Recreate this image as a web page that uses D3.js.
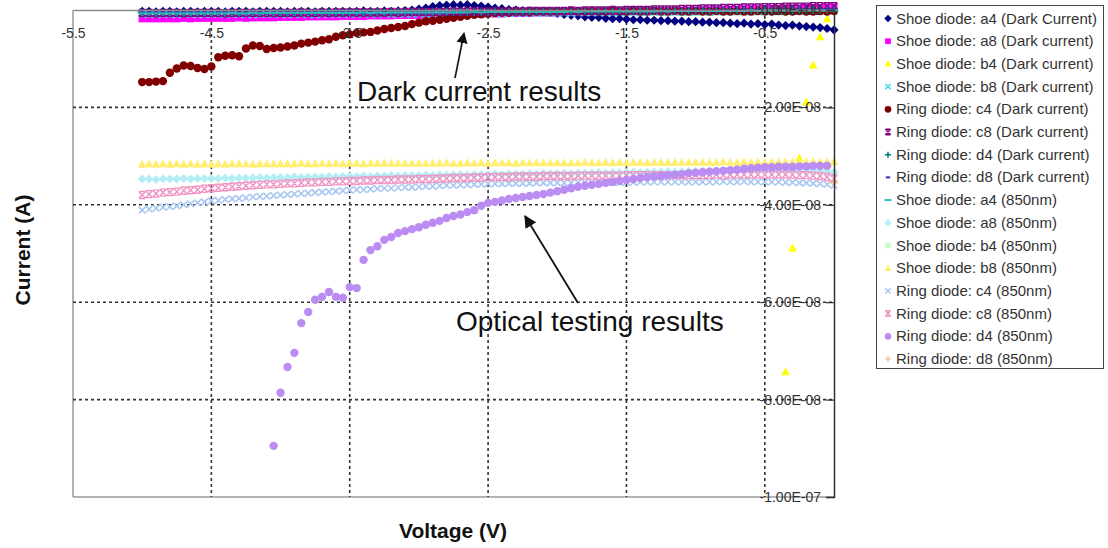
<!DOCTYPE html>
<html><head><meta charset="utf-8">
<script src="https://cdn.jsdelivr.net/npm/d3@7"></script>
<style>body{margin:0;background:#fff}svg{display:block;font-family:Arial,"Liberation Sans",sans-serif}</style>
</head><body>
<svg id="chart" width="1108" height="548"></svg>
<script>
// Voltage (V), one point every 0.05 V
const voltage = [
-5.00,-4.95,-4.90,-4.85,-4.80,-4.75,-4.70,-4.65,-4.60,-4.55,
-4.50,-4.45,-4.40,-4.35,-4.30,-4.25,-4.20,-4.15,-4.10,-4.05,
-4.00,-3.95,-3.90,-3.85,-3.80,-3.75,-3.70,-3.65,-3.60,-3.55,
-3.50,-3.45,-3.40,-3.35,-3.30,-3.25,-3.20,-3.15,-3.10,-3.05,
-3.00,-2.95,-2.90,-2.85,-2.80,-2.75,-2.70,-2.65,-2.60,-2.55,
-2.50,-2.45,-2.40,-2.35,-2.30,-2.25,-2.20,-2.15,-2.10,-2.05,
-2.00,-1.95,-1.90,-1.85,-1.80,-1.75,-1.70,-1.65,-1.60,-1.55,
-1.50,-1.45,-1.40,-1.35,-1.30,-1.25,-1.20,-1.15,-1.10,-1.05,
-1.00,-0.95,-0.90,-0.85,-0.80,-0.75,-0.70,-0.65,-0.60,-0.55,
-0.50,-0.45,-0.40,-0.35,-0.30,-0.25,-0.20,-0.15,-0.10,-0.05,
0.00];

// Currents in nA (null = outside the plotted range)
const shoeA4Dark = [
-0.3,-0.3,-0.4,-0.3,-0.3,-0.4,-0.3,-0.3,-0.4,-0.3,
-0.3,-0.3,-0.4,-0.3,-0.3,-0.3,-0.4,-0.3,-0.3,-0.3,
-0.3,-0.4,-0.3,-0.3,-0.3,-0.4,-0.3,-0.3,-0.3,-0.3,
-0.3,-0.3,-0.2,-0.3,-0.3,-0.2,-0.3,-0.2,-0.1,0.0,
0.2,0.4,0.7,0.9,1.0,1.1,1.0,1.1,0.9,0.8,
0.6,0.4,0.3,0.1,0.0,-0.1,-0.2,-0.3,-0.4,-0.5,
-0.7,-0.9,-1.1,-1.2,-1.4,-1.5,-1.5,-1.7,-1.8,-1.8,
-1.9,-2.0,-2.0,-2.1,-2.1,-2.2,-2.2,-2.3,-2.3,-2.4,
-2.4,-2.5,-2.5,-2.6,-2.6,-2.7,-2.8,-2.7,-2.9,-2.8,
-3.0,-2.9,-3.1,-3.2,-3.1,-3.3,-3.4,-3.5,-3.6,-3.8,
-4.1];
const shoeA8Dark = [
-1.8,-1.8,-1.8,-1.8,-1.8,-1.8,-1.7,-1.8,-1.7,-1.7,
-1.7,-1.7,-1.7,-1.7,-1.6,-1.7,-1.6,-1.6,-1.6,-1.6,
-1.5,-1.5,-1.5,-1.5,-1.4,-1.4,-1.4,-1.4,-1.4,-1.3,
-1.3,-1.3,-1.3,-1.2,-1.2,-1.2,-1.2,-1.1,-1.1,-1.1,
-1.1,-1.0,-1.0,-1.0,-1.0,-0.9,-0.9,-0.9,-0.9,-0.8,
-0.8,-0.8,-0.8,-0.7,-0.7,-0.7,-0.7,-0.6,-0.6,-0.6,
-0.6,-0.5,-0.5,-0.5,-0.5,-0.4,-0.4,-0.4,-0.4,-0.3,
-0.3,-0.3,-0.3,-0.2,-0.2,-0.2,-0.2,-0.1,-0.1,-0.1,
-0.1,0.0,0.0,0.0,0.1,0.1,0.1,0.2,0.2,0.2,
0.3,0.3,0.3,0.4,0.4,0.4,0.5,0.5,0.5,0.6,
0.6];
const shoeB4Dark = [
null,null,null,null,null,null,null,null,null,null,
null,null,null,null,null,null,null,null,null,null,
null,null,null,null,null,null,null,null,null,null,
null,null,null,null,null,null,null,null,null,null,
null,null,null,null,null,null,null,null,null,null,
null,null,null,null,null,null,null,null,null,null,
null,null,null,null,null,null,null,null,null,null,
null,null,null,null,null,null,null,null,null,null,
null,null,null,null,null,null,null,null,null,null,
null,null,null,-74.3,-48.9,-30.4,-18.9,-11.3,-5.5,-1.8,
-0.2];
const shoeB8Dark = [
-0.9,-0.9,-1.0,-0.9,-0.9,-1.0,-0.9,-0.9,-1.0,-0.9,
-0.9,-0.9,-1.0,-0.9,-0.9,-0.9,-1.0,-0.9,-0.9,-0.9,
-0.9,-1.0,-0.9,-0.9,-0.9,-1.0,-0.9,-0.9,-0.9,-0.9,
-0.9,-0.9,-0.8,-0.9,-0.9,-0.8,-0.9,-0.9,-0.8,-0.9,
-0.8,-0.9,-0.8,-0.8,-0.9,-0.8,-0.8,-0.8,-0.8,-0.8,
-0.8,-0.7,-0.8,-0.7,-0.7,-0.7,-0.7,-0.7,-0.7,-0.7,
-0.7,-0.6,-0.7,-0.6,-0.6,-0.6,-0.6,-0.6,-0.6,-0.6,
-0.6,-0.5,-0.6,-0.5,-0.5,-0.5,-0.5,-0.5,-0.5,-0.5,
-0.5,-0.4,-0.5,-0.4,-0.4,-0.4,-0.4,-0.4,-0.4,-0.4,
-0.4,-0.3,-0.4,-0.3,-0.3,-0.3,-0.3,-0.3,-0.3,-0.3,
-0.3];
const ringC4Dark = [
-14.8,-14.8,-14.7,-14.6,-12.9,-12.0,-11.4,-11.5,-11.9,-12.1,
-11.6,-9.7,-9.4,-9.3,-9.5,-7.9,-7.3,-7.4,-8.0,-7.8,
-7.7,-7.5,-7.3,-6.9,-6.7,-6.5,-6.2,-6.0,-5.5,-5.2,
-5.0,-4.7,-4.6,-4.5,-4.2,-3.9,-3.7,-3.5,-3.3,-2.9,
-2.6,-2.3,-2.2,-2.0,-1.8,-1.6,-1.4,-1.2,-1.0,-0.9,
-0.7,-0.6,-0.5,-0.5,-0.4,-0.4,-0.4,-0.3,-0.3,-0.3,
-0.3,-0.3,-0.2,-0.3,-0.3,-0.2,-0.3,-0.3,-0.2,-0.3,
-0.3,-0.2,-0.3,-0.3,-0.2,-0.3,-0.3,-0.2,-0.3,-0.3,
-0.2,-0.3,-0.3,-0.2,-0.3,-0.3,-0.2,-0.3,-0.3,-0.2,
-0.3,-0.3,-0.2,-0.3,-0.3,-0.2,-0.3,-0.3,-0.2,-0.3,
-0.2];
const ringC8Dark = [
-0.6,-0.6,-0.7,-0.6,-0.6,-0.6,-0.7,-0.6,-0.6,-0.6,
-0.6,-0.6,-0.7,-0.6,-0.6,-0.6,-0.6,-0.6,-0.6,-0.6,
-0.6,-0.6,-0.6,-0.5,-0.6,-0.6,-0.5,-0.6,-0.5,-0.5,
-0.5,-0.5,-0.5,-0.5,-0.5,-0.5,-0.4,-0.5,-0.4,-0.4,
-0.4,-0.4,-0.4,-0.4,-0.4,-0.3,-0.4,-0.3,-0.3,-0.3,
-0.3,-0.3,-0.3,-0.3,-0.2,-0.3,-0.2,-0.2,-0.2,-0.2,
-0.2,-0.2,-0.1,-0.2,-0.1,-0.1,-0.1,-0.1,0.0,-0.1,
0.0,0.0,0.0,0.0,0.1,0.1,0.1,0.1,0.2,0.2,
0.2,0.3,0.3,0.3,0.4,0.4,0.4,0.5,0.5,0.5,
0.6,0.6,0.6,0.7,0.7,0.7,0.7,0.8,0.8,0.8,
0.8];
const ringD4Dark = [
-0.6,-0.6,-0.6,-0.6,-0.6,-0.6,-0.6,-0.6,-0.6,-0.6,
-0.6,-0.6,-0.5,-0.6,-0.6,-0.6,-0.5,-0.6,-0.6,-0.6,
-0.5,-0.6,-0.5,-0.5,-0.6,-0.5,-0.5,-0.5,-0.5,-0.5,
-0.5,-0.5,-0.5,-0.5,-0.4,-0.5,-0.5,-0.4,-0.5,-0.4,
-0.4,-0.4,-0.4,-0.4,-0.4,-0.4,-0.4,-0.4,-0.4,-0.4,
-0.4,-0.3,-0.4,-0.3,-0.4,-0.3,-0.3,-0.3,-0.3,-0.3,
-0.3,-0.3,-0.3,-0.3,-0.3,-0.3,-0.3,-0.2,-0.3,-0.2,
-0.2,-0.2,-0.2,-0.2,-0.2,-0.2,-0.2,-0.2,-0.2,-0.2,
-0.2,-0.1,-0.2,-0.1,-0.1,-0.1,-0.1,-0.1,-0.1,-0.1,
-0.1,-0.1,-0.1,0.0,-0.1,0.0,0.0,0.0,0.0,0.0,
0.0];
const ringD8Dark = [
-0.5,-0.5,-0.5,-0.5,-0.5,-0.5,-0.5,-0.5,-0.5,-0.5,
-0.5,-0.5,-0.5,-0.5,-0.5,-0.5,-0.5,-0.5,-0.5,-0.5,
-0.5,-0.5,-0.5,-0.4,-0.5,-0.4,-0.5,-0.4,-0.4,-0.4,
-0.4,-0.4,-0.4,-0.4,-0.4,-0.4,-0.4,-0.4,-0.4,-0.4,
-0.4,-0.4,-0.3,-0.4,-0.3,-0.3,-0.3,-0.3,-0.3,-0.3,
-0.3,-0.3,-0.3,-0.3,-0.3,-0.3,-0.3,-0.3,-0.3,-0.3,
-0.2,-0.3,-0.2,-0.2,-0.2,-0.2,-0.2,-0.2,-0.2,-0.2,
-0.2,-0.2,-0.2,-0.2,-0.1,-0.2,-0.1,-0.1,-0.1,-0.1,
-0.1,-0.1,-0.1,-0.1,-0.1,-0.1,-0.1,0.0,-0.1,0.0,
0.0,0.0,0.0,0.0,0.0,0.1,0.0,0.1,0.1,0.1,
0.1];
const shoeA4Optical = [
-0.7,-0.7,-0.7,-0.7,-0.7,-0.7,-0.7,-0.7,-0.7,-0.7,
-0.7,-0.7,-0.7,-0.6,-0.7,-0.7,-0.6,-0.7,-0.6,-0.6,
-0.6,-0.6,-0.6,-0.6,-0.6,-0.6,-0.6,-0.6,-0.6,-0.6,
-0.6,-0.6,-0.5,-0.6,-0.5,-0.6,-0.5,-0.5,-0.5,-0.5,
-0.5,-0.5,-0.5,-0.5,-0.5,-0.5,-0.5,-0.5,-0.4,-0.5,
-0.4,-0.4,-0.4,-0.4,-0.4,-0.4,-0.4,-0.4,-0.4,-0.4,
-0.4,-0.4,-0.3,-0.4,-0.3,-0.3,-0.3,-0.3,-0.3,-0.3,
-0.3,-0.3,-0.3,-0.3,-0.3,-0.2,-0.3,-0.2,-0.2,-0.2,
-0.2,-0.2,-0.2,-0.2,-0.2,-0.2,-0.2,-0.2,-0.1,-0.2,
-0.1,-0.1,-0.1,-0.1,-0.1,-0.1,-0.1,-0.1,-0.1,-0.1,
-0.1];
const shoeA8Optical = [
-34.7,-34.7,-34.8,-34.7,-34.7,-34.7,-34.6,-34.7,-34.6,-34.6,
-34.6,-34.6,-34.5,-34.6,-34.5,-34.5,-34.5,-34.4,-34.5,-34.4,
-34.4,-34.4,-34.3,-34.4,-34.3,-34.3,-34.3,-34.2,-34.3,-34.2,
-34.2,-34.2,-34.1,-34.2,-34.1,-34.1,-34.0,-34.1,-34.0,-34.0,
-34.0,-33.9,-34.0,-33.9,-33.9,-33.9,-33.8,-33.9,-33.8,-33.8,
-33.8,-33.7,-33.8,-33.7,-33.7,-33.7,-33.6,-33.7,-33.6,-33.6,
-33.6,-33.5,-33.6,-33.5,-33.5,-33.5,-33.4,-33.5,-33.4,-33.4,
-33.4,-33.3,-33.4,-33.3,-33.3,-33.3,-33.2,-33.3,-33.2,-33.2,
-33.2,-33.1,-33.2,-33.1,-33.1,-33.1,-33.0,-33.1,-33.0,-33.0,
-33.0,-33.0,-32.9,-33.0,-32.9,-32.9,-32.9,-32.9,-33.0,-33.1,
-33.3];
const shoeB4Optical = [
null,null,null,null,null,null,null,null,null,null,
null,null,null,null,null,null,null,null,null,null,
null,null,null,null,null,null,null,null,null,null,
null,null,null,null,null,null,null,null,null,null,
null,null,null,null,null,null,null,null,null,null,
null,null,null,null,null,null,null,null,null,null,
null,null,null,null,null,null,null,null,null,null,
null,null,null,null,null,null,null,null,null,null,
null,null,null,null,null,null,null,null,null,null,
null,null,null,null,null,null,null,null,null,null,
null];
const shoeB8Optical = [
-31.7,-31.6,-31.7,-31.6,-31.7,-31.6,-31.7,-31.6,-31.7,-31.6,
-31.7,-31.6,-31.7,-31.6,-31.6,-31.6,-31.7,-31.6,-31.6,-31.6,
-31.6,-31.6,-31.6,-31.5,-31.6,-31.6,-31.5,-31.6,-31.5,-31.6,
-31.5,-31.5,-31.6,-31.5,-31.5,-31.5,-31.5,-31.5,-31.5,-31.5,
-31.5,-31.5,-31.5,-31.5,-31.4,-31.5,-31.5,-31.4,-31.5,-31.4,
-31.5,-31.4,-31.4,-31.4,-31.5,-31.4,-31.4,-31.4,-31.4,-31.4,
-31.4,-31.4,-31.4,-31.4,-31.3,-31.4,-31.4,-31.3,-31.4,-31.3,
-31.4,-31.3,-31.3,-31.4,-31.3,-31.3,-31.3,-31.3,-31.3,-31.3,
-31.3,-31.3,-31.3,-31.3,-31.2,-31.3,-31.3,-31.2,-31.3,-31.2,
-31.3,-31.2,-31.2,-31.2,-31.2,-31.2,-31.2,-31.2,-31.2,-31.2,
-31.2];
const ringC4Optical = [
-41.1,-40.9,-40.7,-40.5,-40.4,-40.2,-40.0,-39.8,-39.6,-39.4,
-39.2,-39.1,-38.9,-38.8,-38.7,-38.6,-38.4,-38.3,-38.2,-38.1,
-38.0,-37.9,-37.8,-37.7,-37.6,-37.5,-37.4,-37.3,-37.2,-37.1,
-37.0,-36.9,-36.9,-36.8,-36.7,-36.6,-36.6,-36.5,-36.4,-36.4,
-36.3,-36.2,-36.2,-36.1,-36.0,-36.0,-35.9,-35.9,-35.8,-35.8,
-35.7,-35.7,-35.7,-35.6,-35.6,-35.6,-35.6,-35.5,-35.5,-35.5,
-35.5,-35.5,-35.5,-35.4,-35.4,-35.4,-35.4,-35.4,-35.4,-35.4,
-35.4,-35.4,-35.3,-35.3,-35.3,-35.3,-35.3,-35.3,-35.3,-35.3,
-35.3,-35.3,-35.3,-35.3,-35.2,-35.3,-35.3,-35.2,-35.3,-35.3,
-35.3,-35.3,-35.3,-35.4,-35.4,-35.5,-35.5,-35.6,-35.7,-35.8,
-36.0];
const ringC8Optical = [
-38.0,-37.8,-37.7,-37.5,-37.4,-37.3,-37.1,-37.0,-36.9,-36.7,
-36.6,-36.5,-36.4,-36.3,-36.2,-36.1,-36.0,-35.9,-35.8,-35.8,
-35.7,-35.6,-35.6,-35.5,-35.4,-35.4,-35.3,-35.3,-35.2,-35.2,
-35.1,-35.1,-35.0,-35.0,-34.9,-34.9,-34.9,-34.8,-34.8,-34.8,
-34.7,-34.7,-34.7,-34.6,-34.6,-34.5,-34.5,-34.5,-34.4,-34.4,
-34.3,-34.3,-34.3,-34.3,-34.2,-34.2,-34.2,-34.2,-34.1,-34.1,
-34.1,-34.1,-34.1,-34.0,-34.0,-34.0,-34.0,-34.0,-34.0,-34.0,
-33.9,-33.9,-33.9,-33.9,-33.9,-33.9,-33.9,-33.9,-33.9,-33.9,
-33.9,-33.9,-33.9,-33.8,-33.9,-33.8,-33.8,-33.8,-33.8,-33.8,
-33.8,-33.8,-33.8,-33.8,-33.8,-33.9,-33.9,-34.0,-34.1,-34.3,
-34.6];
const ringD4Optical = [
null,null,null,null,null,null,null,null,null,null,
null,null,null,null,null,null,null,null,null,-89.5,
-78.6,-73.3,-70.4,-64.3,-62.0,-59.5,-58.9,-57.9,-58.9,-59.1,
-56.9,-57.1,-51.3,-49.3,-48.5,-47.2,-46.6,-45.8,-45.4,-45.0,
-44.6,-44.1,-43.7,-43.3,-42.7,-42.3,-42.0,-41.5,-41.1,-40.2,
-39.6,-39.4,-39.1,-38.8,-38.6,-38.4,-38.2,-38.0,-37.8,-37.5,
-37.2,-36.9,-36.6,-36.3,-36.1,-35.9,-35.7,-35.5,-35.3,-35.1,
-34.9,-34.7,-34.5,-34.3,-34.2,-34.1,-33.9,-33.8,-33.7,-33.5,
-33.4,-33.3,-33.2,-33.1,-33.0,-32.9,-32.8,-32.6,-32.5,-32.4,
-32.3,-32.3,-32.2,-32.2,-32.2,-32.1,-32.1,-32.0,-32.0,-32.0,
null];
const ringD8Optical = [
null,null,null,null,null,null,null,null,null,null,
null,null,null,null,null,null,null,null,null,null,
null,null,null,null,null,null,null,null,null,null,
null,null,null,null,null,null,null,null,null,null,
null,null,null,null,null,null,null,null,null,null,
null,null,null,null,null,null,null,null,null,null,
null,null,null,null,null,null,null,null,null,null,
null,null,null,null,null,null,null,null,null,null,
null,null,null,null,null,null,null,null,null,null,
null,null,null,null,null,null,null,null,null,null,
-35.5];

const seriesNames = [
 "Shoe diode: a4 (Dark Current)","Shoe diode: a8 (Dark current)","Shoe diode: b4 (Dark current)","Shoe diode: b8 (Dark current)",
 "Ring diode: c4 (Dark current)","Ring diode: c8 (Dark current)","Ring diode: d4 (Dark current)","Ring diode: d8 (Dark current)",
 "Shoe diode: a4 (850nm)","Shoe diode: a8 (850nm)","Shoe diode: b4 (850nm)","Shoe diode: b8 (850nm)",
 "Ring diode: c4 (850nm)","Ring diode: c8 (850nm)","Ring diode: d4 (850nm)","Ring diode: d8 (850nm)"];
const seriesValues = [shoeA4Dark,shoeA8Dark,shoeB4Dark,shoeB8Dark,ringC4Dark,ringC8Dark,ringD4Dark,ringD8Dark,
 shoeA4Optical,shoeA8Optical,shoeB4Optical,shoeB8Optical,ringC4Optical,ringC8Optical,ringD4Optical,ringD8Optical];
const xTickValues = [-5.5,-4.5,-3.5,-2.5,-1.5,-0.5];
const yTickValues = [0,-2e-8,-4e-8,-6e-8,-8e-8,-1e-7];
const annotations = ["Dark current results","Optical testing results"];

// styles
const seriesStyle = [
 {c:"#000080",s:"diamond"},{c:"#ff00ff",s:"square"},{c:"#ffff00",s:"triangle"},{c:"#40d8ec",s:"x"},
 {c:"#800000",s:"circle"},{c:"#800080",s:"star"},{c:"#008080",s:"plus"},{c:"#3030c0",s:"dash"},
 {c:"#2cb8b8",s:"longdash"},{c:"#b4eef4",s:"diamond"},{c:"#ccffcc",s:"square"},{c:"#ffee70",s:"triangle"},
 {c:"#a8c6f2",s:"x"},{c:"#f092c2",s:"star"},{c:"#bb8cf2",s:"circle"},{c:"#f8c898",s:"plus"}];

const NANO = 1e-9;
const FONT = "Arial, 'Liberation Sans', sans-serif";
const svg = d3.select("#chart");
const P = {l:73, r:834, t:10, b:497};
const x = d3.scaleLinear().domain([-5.5,0]).range([P.l,P.r]);
const y = d3.scaleLinear().domain([-1e-7,0]).range([P.b,P.t]);

const sci = v => {
  if (v === 0) return "0.00E+00";
  const e = Math.floor(Math.log10(Math.abs(v)) + 1e-9);
  const m = v / Math.pow(10, e);
  const es = (e < 0 ? "-" : "+") + String(Math.abs(e)).padStart(2,"0");
  return m.toFixed(2) + "E" + es;
};

// plot frame
const g = svg.append("g");
g.append("line").attr("x1",P.l).attr("x2",P.l).attr("y1",P.t).attr("y2",P.b).attr("stroke","#9a9a9a").attr("stroke-width",1.5);
g.append("line").attr("x1",P.l).attr("x2",P.r).attr("y1",P.b).attr("y2",P.b).attr("stroke","#9a9a9a").attr("stroke-width",1.5);

// gridlines
g.selectAll(".vg").data(xTickValues.filter(v => v > -5.5)).join("line")
  .attr("x1",d=>x(d)).attr("x2",d=>x(d)).attr("y1",P.t).attr("y2",P.b)
  .attr("stroke","#333").attr("stroke-width",1.6).attr("stroke-dasharray","3,3");
g.selectAll(".hg").data(yTickValues.filter(v => v < 0 && v > -1e-7)).join("line")
  .attr("x1",P.l).attr("x2",P.r).attr("y1",d=>y(d)).attr("y2",d=>y(d))
  .attr("stroke","#333").attr("stroke-width",1.6).attr("stroke-dasharray","3,3");

// markers
function marker(sel, style, sz) {
  const k = sz || 1;
  const s = style.s, c = style.c;
  if (s === "circle") sel.append("circle").attr("r",4.2*k).attr("fill",c);
  else if (s === "diamond") sel.append("path").attr("d",`M0,${-4.6*k}L${4.6*k},0L0,${4.6*k}L${-4.6*k},0Z`).attr("fill",c);
  else if (s === "square") sel.append("rect").attr("x",-3.6*k).attr("y",-3.6*k).attr("width",7.2*k).attr("height",7.2*k).attr("fill",c);
  else if (s === "triangle") sel.append("path").attr("d",`M0,${-4.6*k}L${4.3*k},${3.4*k}L${-4.3*k},${3.4*k}Z`).attr("fill",c);
  else if (s === "x") sel.append("path").attr("d",`M${-3.3*k},${-3.3*k}L${3.3*k},${3.3*k}M${-3.3*k},${3.3*k}L${3.3*k},${-3.3*k}`).attr("stroke",c).attr("stroke-width",1.6).attr("fill","none");
  else if (s === "star") sel.append("path").attr("d",`M${-3.3*k},${-3.3*k}L${3.3*k},${3.3*k}M${-3.3*k},${3.3*k}L${3.3*k},${-3.3*k}M${-3.3*k},${-3.5*k}H${3.3*k}M${-3.3*k},${3.5*k}H${3.3*k}`).attr("stroke",c).attr("stroke-width",1.4).attr("fill","none");
  else if (s === "plus") sel.append("path").attr("d",`M${-3.8*k},0H${3.8*k}M0,${-3.8*k}V${3.8*k}`).attr("stroke",c).attr("stroke-width",1.6).attr("fill","none");
  else if (s === "dash") sel.append("path").attr("d",`M${-2.8*k},0H${2.8*k}`).attr("stroke",c).attr("stroke-width",2).attr("fill","none");
  else if (s === "longdash") sel.append("path").attr("d",`M${-4.3*k},0H${4.3*k}`).attr("stroke",c).attr("stroke-width",2).attr("fill","none");
}

const dataLayer = svg.append("g");
seriesValues.forEach((vals, i) => {
  const pts = voltage.map((v,j)=>({v, a: vals[j]})).filter(p => p.a !== null);
  const grp = dataLayer.append("g");
  pts.forEach(p => {
    const m = grp.append("g").attr("transform",`translate(${x(p.v)},${y(p.a*NANO)})`);
    marker(m, seriesStyle[i], 1);
  });
});

// axes drawn above data: x axis crosses at y = 0 (top), y axis crosses at x = 0 (right)
const xAxis = svg.append("g").attr("transform",`translate(0,${y(0)})`)
  .call(d3.axisBottom(x).tickValues(xTickValues).tickFormat(d=>d.toFixed(1)).tickSize(0).tickPadding(18));
xAxis.select(".domain").attr("stroke","#8a8a8a").attr("stroke-width",1.5);
xAxis.selectAll("text").attr("fill","#333").style("font-size","14px").style("font-family",FONT);

const yAxis = svg.append("g").attr("transform",`translate(${x(0)},0)`)
  .call(d3.axisLeft(y).tickValues(yTickValues).tickFormat(sci).tickSize(8).tickPadding(5));
yAxis.select(".domain").attr("stroke","#333").attr("stroke-width",1.5);
yAxis.selectAll(".tick line").attr("stroke","#333").attr("stroke-width",1.2);
yAxis.selectAll("text").attr("fill","#333").style("font-size","14px").style("font-family",FONT);

// annotations
const ann = svg.append("g").style("font-family",FONT);
ann.append("text").attr("x",357).attr("y",101).attr("font-size",28).attr("fill","#111").text(annotations[0]);
ann.append("text").attr("x",456).attr("y",331).attr("font-size",28).attr("fill","#111").text(annotations[1]);
svg.append("defs").append("marker").attr("id","ah").attr("viewBox","0 0 10 10").attr("refX",9).attr("refY",5)
  .attr("markerWidth",7).attr("markerHeight",7).attr("orient","auto")
  .append("path").attr("d","M0,0L10,5L0,10Z").attr("fill","#111");
ann.append("line").attr("x1",455).attr("y1",78).attr("x2",464).attr("y2",33).attr("stroke","#111").attr("stroke-width",1.6).attr("marker-end","url(#ah)");
ann.append("line").attr("x1",578).attr("y1",303).attr("x2",525).attr("y2",216).attr("stroke","#111").attr("stroke-width",1.8).attr("marker-end","url(#ah)");

// axis titles
svg.append("text").attr("x",453).attr("y",538).attr("text-anchor","middle").attr("font-size",21).attr("font-weight","bold").attr("fill","#111").style("font-family",FONT).text("Voltage (V)");
svg.append("text").attr("transform","translate(30,250) rotate(-90)").attr("text-anchor","middle").attr("font-size",21).attr("font-weight","bold").attr("fill","#111").style("font-family",FONT).text("Current (A)");

// legend
const lg = svg.append("g").style("font-family",FONT);
lg.append("rect").attr("x",876.5).attr("y",5.5).attr("width",227).attr("height",363).attr("fill","#fff").attr("stroke","#444").attr("stroke-width",1);
seriesNames.forEach((n,i) => {
  const cy = 18.5 + i*22.7;
  const m = lg.append("g").attr("transform",`translate(888,${cy})`);
  marker(m, seriesStyle[i], 0.8);
  lg.append("text").attr("x",896).attr("y",cy+5).attr("font-size",15).attr("fill","#333").text(n);
});
</script>
</body></html>
